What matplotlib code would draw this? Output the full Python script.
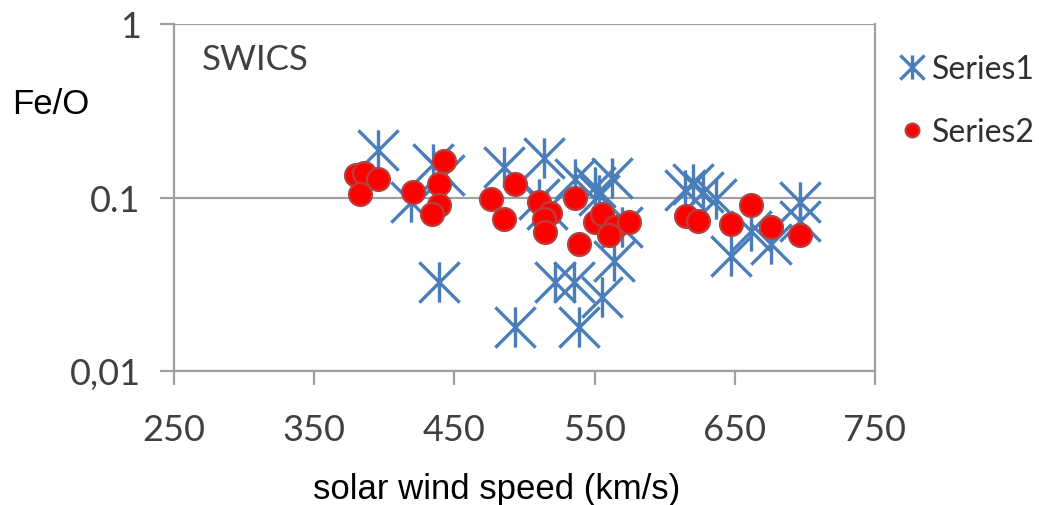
import numpy as np
import matplotlib
matplotlib.use("Agg")
import matplotlib.pyplot as plt
from matplotlib.path import Path
from matplotlib.ticker import FixedLocator, NullLocator

# Series1 (SWICS, Sternchen)
speed1 = [395.5, 419.2, 434.9, 442.8, 439.2, 485.1, 513.8, 510.2, 536.0, 550.4,
          562.5, 553.2, 569.7, 564.0, 555.4, 521.7, 535.3, 493.0, 538.9, 516.0,
          614.2, 619.9, 627.1, 636.4, 647.1, 661.5, 675.8, 696.6, 696.6]
feo1 = [0.189, 0.0936, 0.155, 0.1356, 0.0325, 0.149, 0.170, 0.0974, 0.127, 0.1157,
        0.130, 0.104, 0.0672, 0.0429, 0.0266, 0.0325, 0.0325, 0.018, 0.018, 0.0853,
        0.111, 0.119, 0.108, 0.0974, 0.0458, 0.0638, 0.0537, 0.0948, 0.0728]

# Series2 (rote Punkte)
speed2 = [379.7, 385.5, 395.5, 382.6, 420.6, 442.8, 439.2, 439.2, 434.2, 475.8,
          485.1, 493.0, 510.2, 518.1, 513.8, 514.5, 536.0, 538.9, 550.4, 555.4,
          564.7, 574.7, 560.4, 614.9, 623.5, 647.1, 661.5, 675.8, 696.6]
feo2 = [0.1356, 0.139, 0.127, 0.105, 0.108, 0.163, 0.119, 0.091, 0.080, 0.0974,
        0.0747, 0.120, 0.0936, 0.0809, 0.0747, 0.063, 0.1, 0.0537, 0.0718, 0.080,
        0.0672, 0.0718, 0.0605, 0.0778, 0.0728, 0.070, 0.091, 0.0672, 0.0605]

xticks = [250, 350, 450, 550, 650, 750]
yticks = [0.01, 0.1, 1]
ytick_labels = ["0,01", "0.1", "1"]

# Excel-Sternchen: senkrechter Strich + X
star = Path([(0, -1), (0, 1), (-1, -1), (1, 1), (-1, 1), (1, -1)],
            [Path.MOVETO, Path.LINETO, Path.MOVETO, Path.LINETO, Path.MOVETO, Path.LINETO])

fig = plt.figure(figsize=(10.39, 5.06), dpi=100)
ax = fig.add_axes([174 / 1039, 1 - 372 / 506, 701 / 1039, 347 / 506])

ax.plot(speed1, feo1, linestyle="none", marker=star, markersize=29,
        markerfacecolor="none", markeredgecolor="#4A7EBB", markeredgewidth=2.4,
        label="Series1")
ax.plot(speed2, feo2, linestyle="none", marker="o", markersize=16.5,
        markerfacecolor="#FF0000", markeredgecolor="#B5413F", markeredgewidth=1.6,
        label="Series2")

ax.set_yscale("log")
ax.set_xlim(250, 750)
ax.set_ylim(0.01, 1)
ax.xaxis.set_major_locator(FixedLocator(xticks))
ax.yaxis.set_major_locator(FixedLocator(yticks))
ax.yaxis.set_minor_locator(NullLocator())
ax.set_yticklabels(ytick_labels)
ax.grid(axis="y", color="#A0A0A0", linewidth=1.6)
ax.set_axisbelow(True)

for side in ["left", "bottom", "right"]:
    ax.spines[side].set_color("#A0A0A0")
    ax.spines[side].set_linewidth(1.6)
ax.spines["top"].set_visible(False)
ax.tick_params(axis="both", direction="out", color="#A0A0A0", width=1.6, length=10,
               labelsize=26, labelcolor="#404040")
ax.tick_params(axis="x", pad=20)
ax.tick_params(axis="y", pad=14)
for lab in ax.get_xticklabels() + ax.get_yticklabels():
    lab.set_fontfamily("Lato")

ax.text(0.04, 0.9, "SWICS", transform=ax.transAxes, fontsize=25, family="Lato",
        color="#404040", va="center", ha="left")
fig.text(12 / 1039, 1 - 104 / 506, "Fe/O", fontsize=25, family="Liberation Sans",
         va="center", ha="left")
fig.text(497 / 1039, 1 - 490 / 506, "solar wind speed (km/s)", fontsize=25,
         family="Liberation Sans", va="center", ha="center")

leg = fig.legend(loc="upper left", bbox_to_anchor=(886 / 1039, 1 - 42 / 506),
                 frameon=False, prop={"family": "Lato", "size": 23},
                 handletextpad=0.25, labelspacing=1.05, markerscale=0.6,
                 handlelength=0.8, borderaxespad=0)
for t in leg.get_texts():
    t.set_color("#303030")

fig.savefig("out.png", dpi=100)
